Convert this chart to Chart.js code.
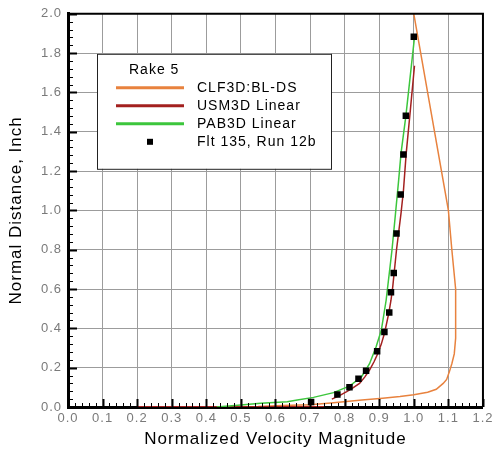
<!DOCTYPE html>
<html>
<head>
<meta charset="utf-8">
<script src="https://cdn.jsdelivr.net/npm/chart.js@4.4.1/dist/chart.umd.min.js"></script>
<style>
  html, body { margin: 0; padding: 0; background: #fff; }
  #wrap { width: 496px; height: 450px; position: relative; }
</style>
</head>
<body>
<div id="wrap"><canvas id="chart"></canvas></div>
<script>
const legendTitle = 'Rake 5';
const seriesNames = ['CLF3D:BL-DS', 'USM3D Linear', 'PAB3D Linear', 'Flt 135, Run 12b'];
const xTitle = 'Normalized Velocity Magnitude';
const yTitle = 'Normal Distance, Inch';

// CLF3D:BL-DS
const clfX = [0.55, 0.62, 0.70, 0.76, 0.85, 0.91, 0.96, 1.00, 1.04, 1.065, 1.085, 1.095, 1.103, 1.11, 1.117, 1.121, 1.122, 1.12, 1.11, 1.10, 1.09, 1.045, 1.0];
const clfY = [0.002, 0.008, 0.012, 0.02, 0.035, 0.045, 0.053, 0.062, 0.075, 0.09, 0.12, 0.14, 0.18, 0.22, 0.27, 0.35, 0.45, 0.60, 0.80, 1.00, 1.10, 1.55, 2.0];

// USM3D Linear (runs along the wall, then a gap, then the profile)
const usmX = [0.2, 0.74, 0.75, 0.763, 0.785, 0.806, 0.825, 0.843, 0.858, 0.872, 0.885, 0.896, 0.906, 0.915, 0.922, 0.928, 0.934, 0.939, 0.95, 0.963, 0.970, 0.978, 0.99, 1.002];
const usmY = [0.001, 0.001, null, 0.04, 0.058, 0.078, 0.098, 0.12, 0.152, 0.188, 0.23, 0.272, 0.32, 0.374, 0.43, 0.48, 0.543, 0.61, 0.80, 0.985, 1.10, 1.29, 1.51, 1.736];

// PAB3D Linear
const pabX = [0.43, 0.5, 0.557, 0.634, 0.663, 0.71, 0.768, 0.815, 0.849, 0.872, 0.891, 0.906, 0.92, 0.937, 0.947, 0.956, 0.963, 0.977, 1.002];
const pabY = [0.0, 0.01, 0.019, 0.027, 0.036, 0.049, 0.073, 0.107, 0.154, 0.22, 0.306, 0.39, 0.543, 0.80, 0.983, 1.15, 1.29, 1.48, 1.88];

// Flt 135, Run 12b
const fltX = [0.703, 0.779, 0.814, 0.840, 0.862, 0.894, 0.915, 0.929, 0.934, 0.942, 0.95, 0.962, 0.97, 0.977, 1.0];
const fltY = [0.025, 0.064, 0.100, 0.144, 0.184, 0.284, 0.382, 0.481, 0.584, 0.682, 0.882, 1.081, 1.284, 1.482, 1.883];

function toPoints(xs, ys) {
  return xs.map((x, i) => ({ x: x, y: ys[i] }));
}

const FONT = '"Liberation Sans", Arial, sans-serif';

const textSpacing = {
  id: 'textSpacing',
  beforeDraw(chart) {
    chart.ctx.letterSpacing = '1px';
  }
};

const innerTicks = {
  id: 'innerTicks',
  afterDatasetsDraw(chart) {
    const { ctx, chartArea, scales } = chart;
    ctx.save();
    ctx.strokeStyle = '#000';
    for (let i = 0; i <= 60; i++) {
      const px = Math.round(scales.x.getPixelForValue(i * 0.02)) + 0.5;
      const major = i % 5 === 0;
      ctx.lineWidth = major ? 2 : 1;
      ctx.beginPath();
      ctx.moveTo(px, chartArea.bottom);
      ctx.lineTo(px, chartArea.bottom - (major ? 8 : 4));
      ctx.stroke();
    }
    for (let i = 0; i <= 50; i++) {
      const py = Math.round(scales.y.getPixelForValue(i * 0.04)) + 0.5;
      const major = i % 5 === 0;
      ctx.lineWidth = major ? 2 : 1;
      ctx.beginPath();
      ctx.moveTo(chartArea.left, py);
      ctx.lineTo(chartArea.left + (major ? 9 : 5), py);
      ctx.stroke();
    }
    // top and right frame
    ctx.lineWidth = 2;
    ctx.beginPath();
    ctx.moveTo(chartArea.left, chartArea.top);
    ctx.lineTo(chartArea.right, chartArea.top);
    ctx.lineTo(chartArea.right, chartArea.bottom);
    ctx.stroke();
    ctx.restore();
  }
};

const boxLegend = {
  id: 'boxLegend',
  afterDraw(chart) {
    const { ctx, chartArea } = chart;
    const left = chartArea.left + 29;
    const top = chartArea.top + 40;
    const w = 234, h = 115;
    ctx.save();
    ctx.fillStyle = '#fff';
    ctx.fillRect(left, top, w, h);
    ctx.strokeStyle = '#222';
    ctx.lineWidth = 1;
    ctx.strokeRect(left + 0.5, top + 0.5, w, h);

    ctx.fillStyle = '#000';
    ctx.textBaseline = 'middle';
    ctx.font = '14px ' + FONT;
    ctx.fillText(legendTitle, left + 32, top + 16);

    chart.data.datasets.forEach((ds, i) => {
      const y = top + 34 + i * 18;
      if (ds.showLine === false) {
        ctx.fillStyle = ds.backgroundColor;
        ctx.fillRect(left + 50, y - 3, 6, 6);
      } else {
        ctx.strokeStyle = ds.borderColor;
        ctx.lineWidth = 3;
        ctx.beginPath();
        ctx.moveTo(left + 19, y);
        ctx.lineTo(left + 87, y);
        ctx.stroke();
      }
      ctx.fillStyle = '#000';
      ctx.fillText(ds.label, left + 100, y);
    });
    ctx.restore();
  }
};

const lineBase = {
  type: 'line',
  fill: false,
  pointRadius: 0,
  borderWidth: 1.5,
  tension: 0,
  spanGaps: false
};

new Chart(document.getElementById('chart'), {
  type: 'scatter',
  data: {
    datasets: [
      Object.assign({}, lineBase, {
        label: seriesNames[0],
        data: toPoints(clfX, clfY),
        borderColor: '#e8823e',
        order: 3
      }),
      Object.assign({}, lineBase, {
        label: seriesNames[1],
        data: toPoints(usmX, usmY),
        borderColor: '#a3201f',
        order: 2
      }),
      Object.assign({}, lineBase, {
        label: seriesNames[2],
        data: toPoints(pabX, pabY),
        borderColor: '#3cc63c',
        order: 1
      }),
      {
        type: 'scatter',
        label: seriesNames[3],
        data: toPoints(fltX, fltY),
        showLine: false,
        pointStyle: 'rect',
        pointRadius: 4.6,
        backgroundColor: '#000',
        borderColor: '#000',
        borderWidth: 0,
        order: 0
      }
    ]
  },
  options: {
    responsive: true,
    maintainAspectRatio: false,
    animation: false,
    layout: { padding: { left: 0, right: 8, top: 13, bottom: 0 } },
    plugins: {
      legend: { display: false },
      tooltip: { enabled: false }
    },
    scales: {
      x: {
        type: 'linear',
        min: 0,
        max: 1.2,
        afterFit(scale) { scale.height = 43; },
        ticks: {
          stepSize: 0.1,
          padding: 4,
          color: '#7a7a7a',
          font: { family: FONT, size: 13 },
          maxRotation: 0,
          callback: v => v.toFixed(1)
        },
        grid: { color: '#9c9c9c', lineWidth: 1, drawTicks: false },
        border: { display: true, color: '#000', width: 3 },
        title: {
          display: true,
          text: xTitle,
          color: '#000',
          font: { family: FONT, size: 17 },
          padding: { top: 0, bottom: 0 }
        }
      },
      y: {
        type: 'linear',
        min: 0,
        max: 2.0,
        afterFit(scale) { scale.width = 68; },
        ticks: {
          stepSize: 0.2,
          padding: 6,
          color: '#7a7a7a',
          font: { family: FONT, size: 13 },
          callback: v => v.toFixed(1)
        },
        grid: { color: '#9c9c9c', lineWidth: 1, drawTicks: false },
        border: { display: true, color: '#000', width: 3 },
        title: {
          display: true,
          text: yTitle,
          color: '#000',
          font: { family: FONT, size: 17 },
          padding: { top: 6, bottom: 0 }
        }
      }
    }
  },
  plugins: [textSpacing, innerTicks, boxLegend]
});
</script>
</body>
</html>
